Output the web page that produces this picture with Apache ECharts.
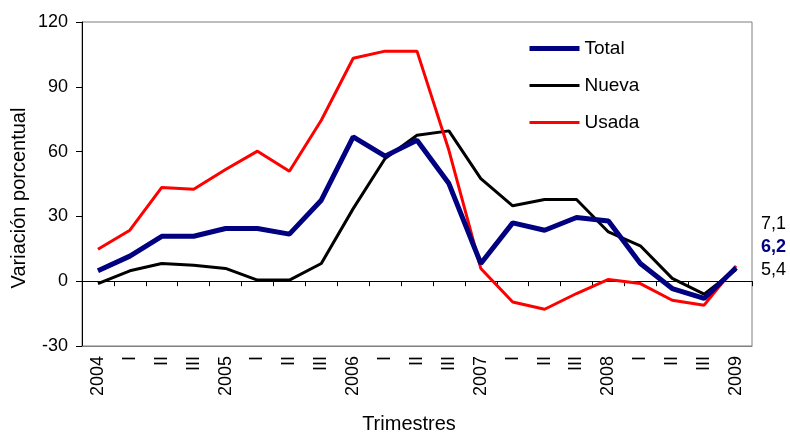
<!DOCTYPE html>
<html>
<head>
<meta charset="utf-8">
<script src="https://cdn.jsdelivr.net/npm/echarts@6/dist/echarts.min.js"></script>
<style>
  html, body { margin: 0; padding: 0; background: #fff; }
  #chart { width: 790px; height: 434px; }
</style>
</head>
<body>
<div id="chart"></div>
<script>
// Trimestres 2004 - 2009
const categories = ['2004', 'I', 'II', 'III', '2005', 'I', 'II', 'III', '2006', 'I', 'II', 'III',
  '2007', 'I', 'II', 'III', '2008', 'I', 'II', 'III', '2009'];

// Variación porcentual
const total = [4.8, 11.6, 20.8, 20.8, 24.4, 24.4, 21.8, 37.5, 66.8, 57.9, 65.3, 45.2,
  8.2, 27.0, 23.6, 29.5, 27.9, 8.2, -3.4, -8.0, 6.2];
const nueva = [-1.1, 4.8, 8.2, 7.4, 5.9, 0.5, 0.5, 8.2, 33.6, 56.8, 67.6, 69.6,
  47.5, 34.9, 37.8, 37.8, 22.8, 16.4, 1.3, -6.0, 5.4];
const usada = [14.8, 23.6, 43.4, 42.6, 51.7, 60.2, 50.9, 74.5, 103.2, 106.5, 106.5, 60.6,
  5.9, -9.6, -13.0, -5.7, 0.8, -1.1, -8.8, -11.1, 7.1];

const yTicks = [-30, 0, 30, 60, 90, 120];

const FONT = '"Liberation Sans", Arial, sans-serif';
const fmt = v => v.toFixed(1).replace('.', ',');

const chart = echarts.init(document.getElementById('chart'), null, { renderer: 'canvas' });

chart.setOption({
  animation: false,
  backgroundColor: '#ffffff',
  textStyle: { fontFamily: FONT },
  grid: {
    left: 82, right: 38, top: 22, bottom: 88,
    show: true, borderColor: '#7f7f7f', borderWidth: 1, backgroundColor: 'transparent'
  },
  legend: {
    orient: 'vertical',
    left: 527, top: 39, padding: 0,
    itemWidth: 50, itemHeight: 18, itemGap: 18,
    itemStyle: { opacity: 0 },
    textStyle: { fontFamily: FONT, fontSize: 19, color: '#000' },
    data: [
      { name: 'Total', lineStyle: { width: 5, color: '#000080' } },
      { name: 'Nueva', lineStyle: { width: 3, color: '#000000' } },
      { name: 'Usada', lineStyle: { width: 3, color: '#ff0000' } }
    ]
  },
  xAxis: [
    {
      type: 'category',
      data: categories,
      position: 'bottom',
      boundaryGap: true,
      axisLine: { onZero: false, show: true, lineStyle: { color: '#7f7f7f', width: 1 } },
      axisTick: { show: false },
      axisLabel: {
        rotate: 90, interval: 0, margin: 10,
        fontFamily: FONT, fontSize: 18, color: '#000'
      },
      splitLine: { show: false }
    },
    {
      type: 'category',
      data: categories,
      position: 'bottom',
      boundaryGap: true,
      axisLine: { onZero: true, show: true, lineStyle: { color: '#000', width: 1 } },
      axisTick: { show: true, length: 5, interval: 0, lineStyle: { color: '#000' } },
      axisLabel: { show: false },
      splitLine: { show: false }
    }
  ],
  yAxis: {
    type: 'value',
    min: yTicks[0], max: yTicks[yTicks.length - 1], interval: 30,
    axisLine: { show: true, lineStyle: { color: '#000', width: 1 } },
    axisTick: { show: true, length: 6, lineStyle: { color: '#000' } },
    axisLabel: { margin: 14, fontFamily: FONT, fontSize: 18, color: '#000' },
    splitLine: { show: false }
  },
  series: [
    {
      name: 'Total', type: 'line', data: total, xAxisIndex: 0, z: 4,
      symbol: 'none', lineStyle: { color: '#000080', width: 5 }, itemStyle: { color: '#000080' }
    },
    {
      name: 'Nueva', type: 'line', data: nueva, xAxisIndex: 0, z: 3,
      symbol: 'none', lineStyle: { color: '#000000', width: 3 }, itemStyle: { color: '#000000' }
    },
    {
      name: 'Usada', type: 'line', data: usada, xAxisIndex: 0, z: 3,
      symbol: 'none', lineStyle: { color: '#ff0000', width: 3 }, itemStyle: { color: '#ff0000' }
    }
  ],
  graphic: [
    {
      type: 'text', x: 19, y: 198, rotation: Math.PI / 2,
      style: {
        text: 'Variación porcentual', fontFamily: FONT, fontSize: 20, fill: '#000',
        align: 'center', verticalAlign: 'middle'
      }
    },
    {
      type: 'text', x: 409, y: 424,
      style: {
        text: 'Trimestres', fontFamily: FONT, fontSize: 20, fill: '#000',
        align: 'center', verticalAlign: 'middle'
      }
    },
    {
      type: 'text', x: 761, y: 224,
      style: { text: fmt(usada[usada.length - 1]), fontFamily: FONT, fontSize: 18, fill: '#000', verticalAlign: 'middle' }
    },
    {
      type: 'text', x: 761, y: 247,
      style: { text: fmt(total[total.length - 1]), fontFamily: FONT, fontSize: 18, fontWeight: 'bold', fill: '#000080', verticalAlign: 'middle' }
    },
    {
      type: 'text', x: 761, y: 270,
      style: { text: fmt(nueva[nueva.length - 1]), fontFamily: FONT, fontSize: 18, fill: '#000', verticalAlign: 'middle' }
    }
  ]
});
</script>
</body>
</html>
